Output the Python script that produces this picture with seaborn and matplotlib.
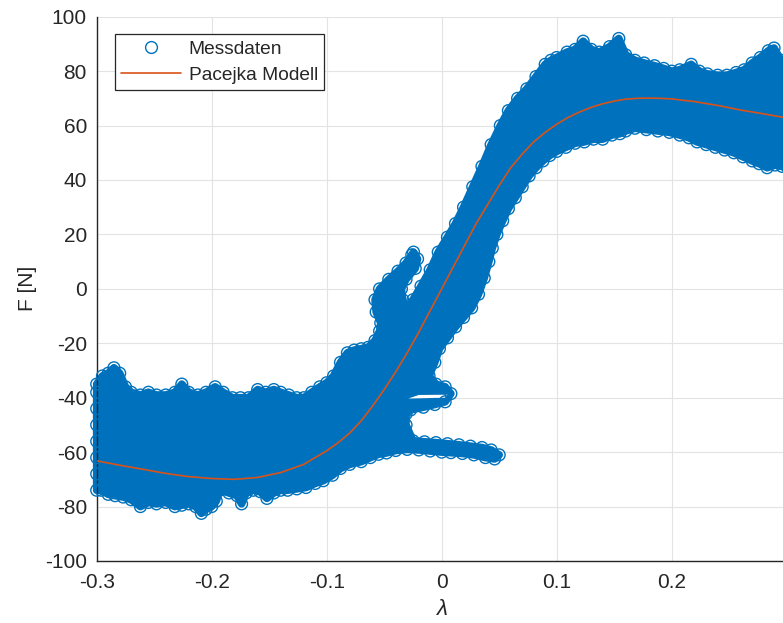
import numpy as np
import matplotlib
matplotlib.use("Agg")
import matplotlib.pyplot as plt
from matplotlib.lines import Line2D
import seaborn as sns

# ---------------- data ----------------
# Outline of the measured-data cloud (clockwise), lambda values
lam_cloud = [
    -0.300, -0.300, -0.300, -0.300, -0.300, -0.300, -0.300, -0.300,
    -0.295, -0.290, -0.285, -0.280, -0.275, -0.270, -0.262, -0.255, -0.248, -0.240,
    -0.232, -0.226, -0.220, -0.212, -0.205, -0.197, -0.190, -0.182, -0.175, -0.168,
    -0.160, -0.153, -0.146, -0.140, -0.133, -0.126, -0.120, -0.113, -0.106, -0.100,
    -0.094, -0.088, -0.082, -0.076, -0.070, -0.064,
    -0.058, -0.054, -0.053, -0.057, -0.058, -0.054, -0.046, -0.038, -0.031, -0.026,
    -0.0245, -0.021, -0.023, -0.031, -0.035, -0.034, -0.031, -0.025, -0.018, -0.010,
    -0.003, 0.005, 0.012, 0.019, 0.027, 0.035, 0.043, 0.051, 0.058, 0.066, 0.074, 0.082,
    0.090, 0.095, 0.100, 0.109, 0.116, 0.123, 0.130, 0.137, 0.146, 0.154, 0.160, 0.168,
    0.176, 0.185, 0.193, 0.200, 0.207, 0.217, 0.224, 0.231, 0.240, 0.248, 0.256, 0.263,
    0.270, 0.277, 0.284, 0.289, 0.295, 0.300,
    0.300, 0.300, 0.300, 0.300, 0.300, 0.300,
    0.296, 0.290, 0.283, 0.276, 0.270, 0.262, 0.254, 0.246, 0.238, 0.230, 0.222, 0.215,
    0.207, 0.198, 0.188, 0.178, 0.168, 0.160, 0.155, 0.148, 0.140, 0.132, 0.124, 0.116,
    0.108, 0.100, 0.094, 0.088, 0.082, 0.076, 0.070, 0.064, 0.058, 0.053, 0.048, 0.044,
    0.041, 0.037, 0.032, 0.026, 0.019, 0.012, 0.005, -0.002, -0.006, -0.011,
    -0.005, 0.003, 0.008, 0.003, -0.006, -0.016, -0.027, -0.031, -0.031,
    -0.025, -0.015, -0.005, 0.005, 0.015, 0.025, 0.035, 0.043, 0.050, 0.046,
    0.038, 0.028, 0.018, 0.008, 0.000, -0.010, -0.020, -0.030, -0.040, -0.048,
    -0.055, -0.062, -0.070, -0.080, -0.088, -0.095, -0.103, -0.110, -0.118, -0.126,
    -0.134, -0.140, -0.146, -0.152, -0.158, -0.164, -0.170, -0.174, -0.178, -0.185,
    -0.193, -0.196, -0.200, -0.205, -0.209, -0.214, -0.220, -0.226, -0.232, -0.240,
    -0.248, -0.255, -0.262, -0.270, -0.277, -0.284, -0.290, -0.296,
]
# Force values [N] matching lam_cloud
f_cloud = [
    -74, -68, -62, -56, -50, -44, -38, -35,
    -32, -31, -29, -31, -36, -38, -39, -38, -39, -39,
    -38, -35, -38, -39, -38, -36, -38, -40, -40, -40,
    -37, -38, -37, -38, -39, -40, -40, -38, -36, -34.5,
    -32, -27, -23.5, -22.5, -22, -21.5,
    -19, -15.5, -12.5, -8.5, -4, 0, 3.5, 6.5, 9.5, 12.5,
    13.5, 11, 7.5, 3.5, 0, -4, -7.5, -4, 1, 7,
    13.5, 19, 24, 30, 37.5, 45, 53, 60, 65.5, 70, 73.5, 78,
    82.5, 84, 85, 87, 88, 91, 88, 87, 89, 92, 86, 84,
    83, 82, 81, 80, 80.5, 82.5, 80, 79, 78.5, 78.5, 79.5, 80.5,
    83, 85, 87.5, 88.5, 84, 82,
    76, 70, 64, 58, 52, 45,
    45, 45.5, 44.5, 46, 47, 48.5, 50, 51, 52, 53, 54, 55.5,
    56.5, 57.5, 58, 58.5, 59, 58, 57, 56.5, 55, 55, 54, 53.5,
    52, 50.5, 49, 47, 44.5, 41.5, 37.5, 33.5, 29.5, 25, 20, 15,
    10, 4, -2, -7, -10.5, -14, -18, -22, -27, -32,
    -35, -36, -38.5, -41.5, -42.5, -43.5, -44.5, -46, -50,
    -55.8, -56.2, -56.5, -56.9, -57.3, -57.8, -58.3, -59.2, -61, -62.5,
    -62, -61, -60.5, -60.2, -60, -59.6, -59.2, -59, -59.4, -60.3,
    -60.8, -62, -63.5, -64.5, -66, -68.5, -70.5, -71.5, -73, -73.5,
    -74, -74, -75, -77, -74.5, -74, -75, -79, -76, -75,
    -74, -78, -80, -81, -82.5, -80, -79, -79.5, -80, -78.5,
    -79, -78.5, -80, -77.5, -76.5, -76, -75.5, -74,
]
# small white gap inside the transient loop
lam_gap = [-0.0290, -0.0200, 0.0050, 0.0030]
f_gap = [-40.3, -39.0, -38.9, -40.0]

# Pacejka model curve
lam_model = [-0.30, -0.28, -0.26, -0.24, -0.22, -0.20, -0.18, -0.16, -0.14, -0.12,
             -0.10, -0.09, -0.08, -0.07, -0.06, -0.05, -0.04, -0.03, -0.02, -0.01,
             0.00, 0.01, 0.02, 0.03, 0.04, 0.05, 0.06, 0.07, 0.08, 0.09,
             0.10, 0.11, 0.12, 0.13, 0.14, 0.15, 0.16, 0.17, 0.18, 0.19,
             0.20, 0.22, 0.24, 0.26, 0.28, 0.30]
f_model = [-63.2, -64.8, -66.3, -67.8, -69.0, -69.7, -70.0, -69.3, -67.5, -64.5,
           -59.5, -56.5, -53.0, -48.5, -43.0, -37.0, -30.5, -23.5, -16.0, -8.0,
           0.0, 8.0, 16.0, 24.0, 31.0, 38.0, 44.5, 49.5, 54.0, 57.5,
           60.5, 63.0, 65.0, 66.7, 68.0, 69.0, 69.7, 70.0, 70.1, 70.0,
           69.8, 68.8, 67.4, 65.7, 64.3, 62.8]

xticks = [-0.3, -0.2, -0.1, 0.0, 0.1, 0.2]
xticklabels = ["-0.3", "-0.2", "-0.1", "0", "0.1", "0.2"]
yticks = [-100, -80, -60, -40, -20, 0, 20, 40, 60, 80, 100]
yticklabels = ["-100", "-80", "-60", "-40", "-20", "0", "20", "40", "60", "80", "100"]

# ---------------- styling ----------------
sns.set_theme(style="white")
plt.rcParams["font.family"] = ["Liberation Sans", "DejaVu Sans"]

BLUE = "#0072BD"
ORANGE = "#D95319"
DARK = "#262626"

fig = plt.figure(figsize=(7.83, 6.23), dpi=100)
ax = fig.add_axes([96.7 / 783, 62 / 623, 690 / 783, 544.3 / 623])
ax.set_facecolor("white")

# dense cloud body (thick edge = overlapping marker rings)
body = ax.fill(lam_cloud, f_cloud, facecolor=BLUE, edgecolor=BLUE, lw=5.5,
               joinstyle="round", zorder=2)
for p in body:
    p.set_clip_on(False)
ax.fill(lam_gap, f_gap, color="white", lw=0, zorder=2.1)

# open-circle markers of the measured data
sns.scatterplot(x=lam_cloud, y=f_cloud, ax=ax, marker="o", s=72,
                color=BLUE, edgecolor=BLUE, linewidth=1.0,
                label="Messdaten", zorder=3, clip_on=False, legend=False)
sc = ax.collections[-1]
sc.set_facecolor("none")
sc.set_edgecolor(BLUE)

# Pacejka model
sns.lineplot(x=lam_model, y=f_model, ax=ax, color=ORANGE, linewidth=1.2,
             label="Pacejka Modell", zorder=4, legend=False)

ax.set_xlim(-0.3, 0.3)
ax.set_ylim(-100, 100)
ax.set_xticks(xticks)
ax.set_xticklabels(xticklabels)
ax.set_yticks(yticks)
ax.set_yticklabels(yticklabels)

ax.grid(True, color="#E3E3E3", linewidth=0.8)
ax.set_axisbelow(True)
for side in ["top", "right"]:
    ax.spines[side].set_visible(False)
for side in ["left", "bottom"]:
    ax.spines[side].set_color(DARK)
    ax.spines[side].set_linewidth(1.0)
ax.tick_params(axis="both", direction="in", length=4, width=0.8, color=DARK,
               labelsize=15, labelcolor=DARK)
ax.tick_params(axis="x", pad=9)
ax.tick_params(axis="y", pad=7)

ax.set_ylabel("F [N]", fontsize=15, color=DARK, labelpad=6)
ax.set_xlabel("λ", fontsize=16, color=DARK, fontstyle="italic", labelpad=5)

handles = [
    Line2D([], [], marker="o", linestyle="none", markerfacecolor="none",
           markeredgecolor=BLUE, markersize=8.5, markeredgewidth=1.0),
    Line2D([], [], color=ORANGE, linewidth=1.2),
]
leg = ax.legend(handles, ["Messdaten", "Pacejka Modell"], loc="upper left",
                bbox_to_anchor=(0.0265, 0.968), borderaxespad=0, fontsize=13.8,
                frameon=True, fancybox=False, edgecolor=DARK, framealpha=1,
                handlelength=3.1, handletextpad=0.42, labelspacing=0.45,
                borderpad=0.33)
leg.get_frame().set_linewidth(0.9)
leg.set_zorder(10)

fig.savefig("out.png", dpi=100, facecolor="white")
